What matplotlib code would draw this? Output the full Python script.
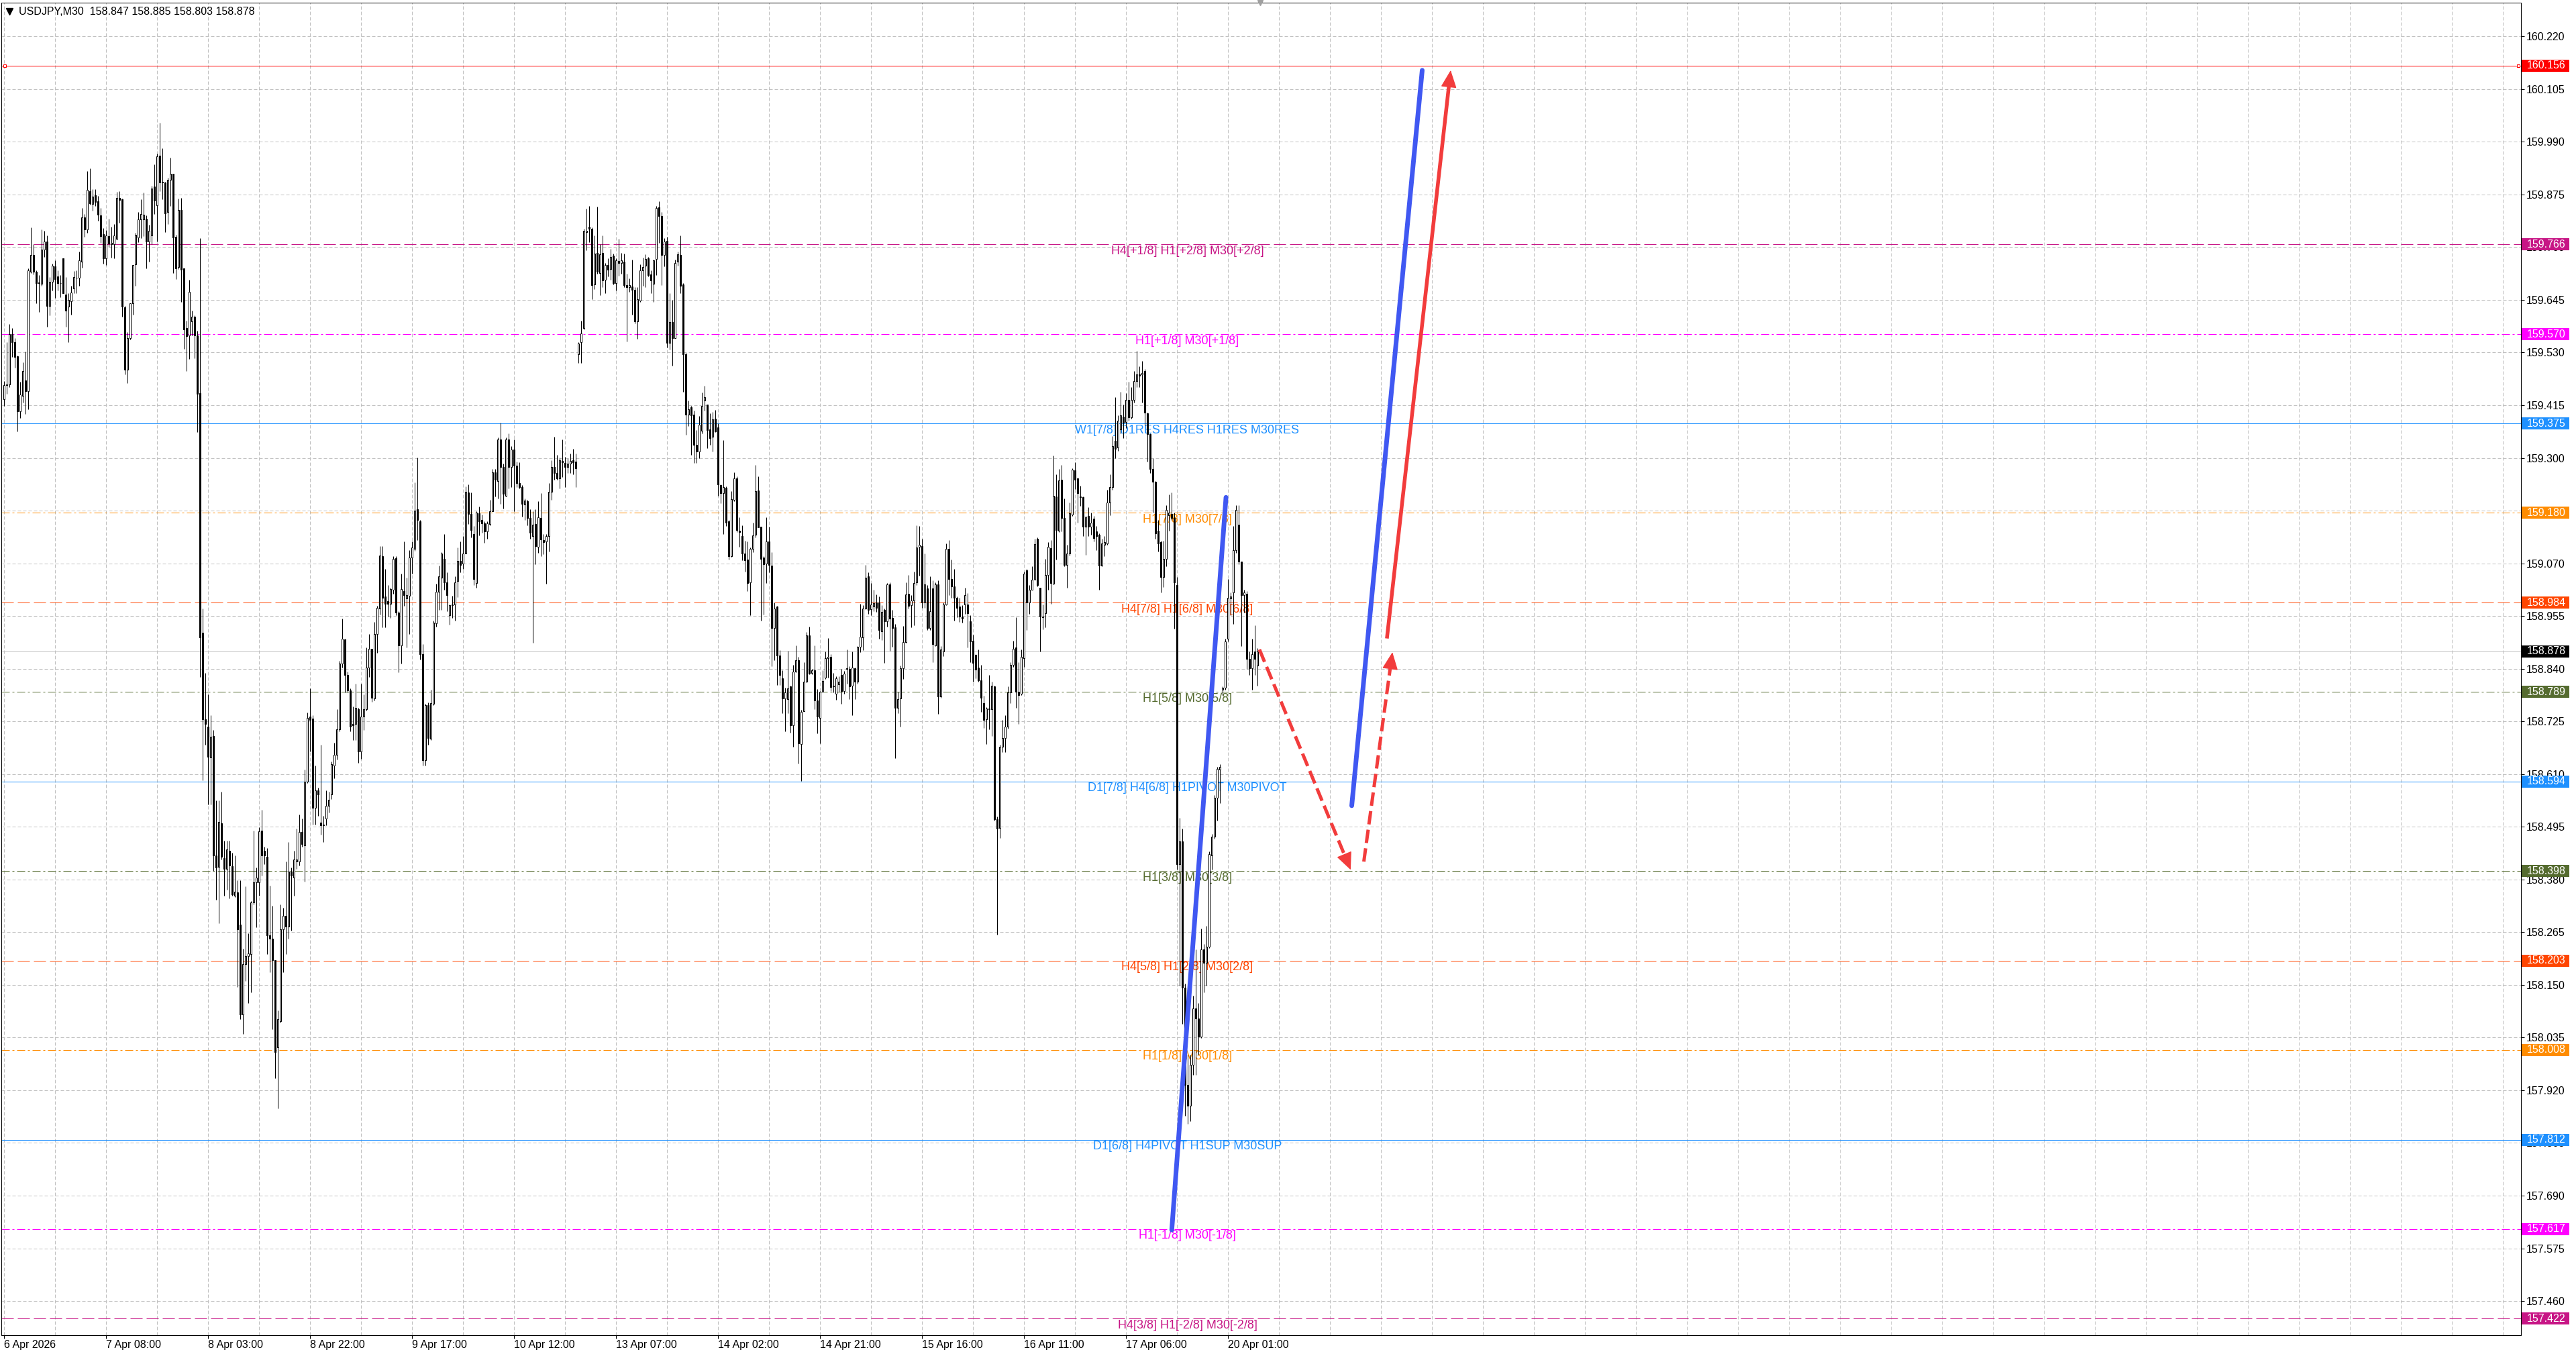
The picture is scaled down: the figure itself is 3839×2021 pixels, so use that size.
import matplotlib
matplotlib.use('Agg')
import matplotlib.pyplot as plt
import matplotlib.transforms as mtransforms
from matplotlib.patches import Rectangle
import numpy as np

plt.rcParams['font.family'] = ['Liberation Sans', 'DejaVu Sans']

title_text = "USDJPY,M30  158.847 158.885 158.803 158.878"

opens = [
159.428, 159.459, 159.460, 159.570, 159.553, 159.522, 159.402, 159.435, 159.469, 159.446,
159.707, 159.743, 159.707, 159.683, 159.680, 159.755, 159.772, 159.632, 159.684, 159.718,
159.696, 159.682, 159.736, 159.656, 159.630, 159.642, 159.670, 159.693, 159.693, 159.729,
159.825, 159.798, 159.882, 159.855, 159.873, 159.860, 159.830, 159.789, 159.735, 159.784,
159.767, 159.766, 159.778, 159.868, 159.865, 159.629, 159.492, 159.561, 159.637, 159.723,
159.781, 159.820, 159.821, 159.822, 159.773, 159.786, 159.892, 159.852, 159.960, 159.903,
159.901, 159.836, 159.907, 159.920, 159.782, 159.716, 159.841, 159.713, 159.583, 159.567,
159.598, 159.609, 159.568, 159.441, 158.919, 158.730, 158.714, 158.646, 158.693, 158.432,
158.407, 158.503, 158.427, 158.403, 158.442, 158.409, 158.345, 158.352, 158.281, 158.086,
158.195, 158.213, 158.217, 158.330, 158.374, 158.374, 158.487, 158.442, 158.429, 158.258,
158.251, 158.204, 158.013, 158.071, 158.272, 158.300, 158.277, 158.397, 158.384, 158.419,
158.419, 158.483, 158.455, 158.593, 158.736, 158.731, 158.536, 158.574, 158.504, 158.498,
158.513, 158.541, 158.565, 158.629, 158.652, 158.708, 158.851, 158.904, 158.826, 158.793,
158.719, 158.719, 158.751, 158.659, 158.736, 158.751, 158.842, 158.884, 158.775, 158.915,
158.971, 159.085, 158.997, 158.988, 158.981, 159.012, 159.081, 158.962, 158.891, 159.009,
158.993, 158.999, 159.083, 159.101, 159.188, 159.162, 158.871, 158.641, 158.760, 158.687,
158.763, 158.939, 159.008, 159.039, 159.080, 159.028, 158.956, 158.978, 158.980, 159.031,
159.075, 159.070, 159.092, 159.225, 159.178, 159.134, 159.027, 159.179, 159.164, 159.157,
159.139, 159.156, 159.184, 159.268, 159.250, 159.340, 159.281, 159.218, 159.341, 159.280,
159.318, 159.283, 159.245, 159.237, 159.198, 159.206, 159.169, 159.129, 159.156, 159.106,
159.169, 159.120, 159.118, 159.129, 159.226, 159.280, 159.267, 159.256, 159.293, 159.289,
159.280, 159.287, 159.295, 159.292, 159.526, 159.552, 159.583, 159.793, 159.805, 159.800,
159.679, 159.748, 159.704, 159.748, 159.689, 159.721, 159.712, 159.741, 159.682, 159.730,
159.726, 159.729, 159.677, 159.673, 159.674, 159.667, 159.598, 159.644, 159.709, 159.719,
159.736, 159.701, 159.680, 159.734, 159.847, 159.828, 159.743, 159.774, 159.551, 159.596,
159.562, 159.729, 159.743, 159.679, 159.527, 159.394, 159.410, 159.394, 159.329, 159.314,
159.359, 159.425, 159.417, 159.363, 159.346, 159.385, 159.367, 159.240, 159.223, 159.235,
159.162, 159.085, 159.208, 159.255, 159.141, 159.129, 159.092, 159.078, 159.029, 159.101,
159.132, 159.229, 159.150, 159.082, 159.070, 159.117, 159.065, 158.929, 158.975, 158.869,
158.819, 158.775, 158.774, 158.801, 158.716, 158.834, 158.859, 158.675, 158.747, 158.812,
158.913, 158.830, 158.837, 158.771, 158.733, 158.790, 158.820, 158.863, 158.866, 158.803,
158.786, 158.806, 158.827, 158.791, 158.841, 158.839, 158.803, 158.841, 158.812, 158.888,
158.908, 158.971, 159.042, 158.970, 158.976, 158.985, 158.985, 158.922, 158.968, 158.944,
159.024, 158.951, 158.930, 158.754, 158.775, 158.841, 158.898, 159.003, 158.978, 158.989,
159.028, 159.106, 159.108, 158.984, 159.015, 158.929, 159.015, 158.891, 159.024, 158.779,
158.877, 158.980, 159.101, 159.035, 159.020, 158.994, 158.975, 158.954, 158.980, 158.980,
158.944, 158.901, 158.870, 158.842, 158.814, 158.765, 158.730, 158.751, 158.751, 158.802,
158.511, 158.492, 158.670, 158.688, 158.713, 158.788, 158.849, 158.886, 158.789, 158.786,
158.863, 159.055, 158.984, 159.013, 159.036, 159.124, 159.017, 158.954, 158.961, 159.045,
159.103, 159.026, 159.216, 159.141, 159.253, 159.169, 159.066, 159.091, 159.176, 159.273,
159.255, 159.216, 159.214, 159.150, 159.173, 159.150, 159.167, 159.139, 159.132, 159.065,
159.110, 159.113, 159.203, 159.236, 159.337, 159.323, 159.363, 159.390, 159.379, 159.427,
159.388, 159.427, 159.468, 159.483, 159.483, 159.489, 159.397, 159.352, 159.276, 159.248,
159.141, 159.116, 159.040, 159.080, 159.175, 159.178, 159.169, 159.023, 158.413, 158.463,
158.144, 157.931, 157.886, 157.976, 158.099, 158.077, 158.037, 158.228, 158.198, 158.233,
158.433, 158.474, 158.558, 158.620, 158.794, 158.799, 158.906, 158.993, 159.007, 159.099,
159.155, 159.074, 159.001, 159.004, 158.861, 158.841, 158.878, 158.847]

highs = [
159.467, 159.553, 159.592, 159.584, 159.562, 159.523, 159.466, 159.508, 159.532, 159.714,
159.803, 159.767, 159.709, 159.699, 159.798, 159.795, 159.786, 159.694, 159.724, 159.731,
159.710, 159.699, 159.736, 159.694, 159.660, 159.675, 159.708, 159.710, 159.750, 159.846,
159.833, 159.926, 159.932, 159.887, 159.886, 159.872, 159.846, 159.802, 159.797, 159.822,
159.804, 159.811, 159.880, 159.882, 159.866, 159.631, 159.575, 159.638, 159.721, 159.792,
159.837, 159.865, 159.879, 159.830, 159.809, 159.894, 159.941, 159.964, 160.031, 159.976,
159.902, 159.911, 159.955, 159.920, 159.787, 159.866, 159.868, 159.714, 159.599, 159.689,
159.621, 159.611, 159.578, 159.780, 158.971, 158.831, 158.784, 158.739, 158.706, 158.552,
158.552, 158.571, 158.464, 158.464, 158.464, 158.438, 158.433, 158.378, 158.378, 158.229,
158.365, 158.262, 158.333, 158.487, 158.406, 158.494, 158.532, 158.451, 158.449, 158.367,
158.322, 158.204, 158.094, 158.326, 158.318, 158.419, 158.461, 158.406, 158.442, 158.491,
158.522, 158.513, 158.620, 158.744, 158.797, 158.739, 158.629, 158.580, 158.674, 158.519,
158.575, 158.571, 158.638, 158.678, 158.752, 158.857, 158.950, 158.906, 158.833, 158.797,
158.758, 158.807, 158.754, 158.808, 158.784, 158.887, 158.915, 158.884, 158.942, 158.977,
159.107, 159.108, 159.057, 159.022, 159.017, 159.085, 159.086, 158.966, 159.047, 159.117,
159.039, 159.099, 159.118, 159.246, 159.301, 159.164, 158.894, 158.763, 158.766, 158.794,
158.945, 159.026, 159.065, 159.095, 159.134, 159.050, 158.980, 158.999, 159.042, 159.104,
159.117, 159.129, 159.238, 159.242, 159.225, 159.151, 159.183, 159.194, 159.177, 159.162,
159.161, 159.209, 159.276, 159.276, 159.345, 159.377, 159.288, 159.344, 159.353, 159.326,
159.340, 159.292, 159.291, 159.240, 159.211, 159.208, 159.188, 159.183, 159.188, 159.206,
159.223, 159.134, 159.134, 159.245, 159.295, 159.346, 159.307, 159.301, 159.340, 159.302,
159.300, 159.309, 159.320, 159.309, 159.553, 159.599, 159.800, 159.844, 159.850, 159.803,
159.786, 159.849, 159.766, 159.786, 159.726, 159.736, 159.756, 159.746, 159.736, 159.778,
159.747, 159.746, 159.702, 159.692, 159.733, 159.672, 159.672, 159.723, 159.737, 159.744,
159.739, 159.709, 159.733, 159.850, 159.860, 159.837, 159.780, 159.783, 159.659, 159.645,
159.733, 159.751, 159.786, 159.682, 159.529, 159.425, 159.413, 159.403, 159.361, 159.392,
159.443, 159.457, 159.417, 159.398, 159.400, 159.405, 159.376, 159.242, 159.339, 159.238,
159.164, 159.228, 159.269, 159.260, 159.170, 159.153, 159.119, 159.117, 159.104, 159.158,
159.284, 159.260, 159.150, 159.085, 159.170, 159.150, 159.095, 158.985, 158.977, 158.881,
158.837, 158.799, 158.879, 158.803, 158.849, 158.891, 158.866, 158.750, 158.854, 158.920,
158.932, 158.840, 158.891, 158.796, 158.791, 158.837, 158.878, 158.907, 158.871, 158.830,
158.823, 158.823, 158.840, 158.835, 158.882, 158.845, 158.878, 158.842, 158.890, 158.981,
158.978, 159.066, 159.051, 159.027, 159.012, 159.002, 158.998, 158.978, 158.971, 159.027,
159.029, 158.968, 158.937, 158.789, 158.847, 158.933, 159.028, 159.045, 159.000, 159.052,
159.153, 159.152, 159.124, 159.092, 159.022, 159.042, 159.033, 159.029, 159.033, 158.889,
158.985, 159.113, 159.120, 159.078, 159.057, 158.998, 158.994, 158.978, 159.017, 159.005,
158.956, 158.914, 158.872, 158.882, 158.849, 158.781, 158.756, 158.826, 158.812, 158.803,
158.518, 158.674, 158.728, 158.739, 158.802, 158.854, 158.901, 158.952, 158.854, 158.882,
159.052, 159.057, 159.022, 159.064, 159.124, 159.127, 159.017, 158.980, 159.080, 159.116,
159.120, 159.305, 159.264, 159.276, 159.285, 159.211, 159.110, 159.202, 159.278, 159.291,
159.257, 159.239, 159.216, 159.173, 159.193, 159.180, 159.173, 159.152, 159.136, 159.124,
159.130, 159.231, 159.264, 159.348, 159.432, 159.393, 159.444, 159.416, 159.441, 159.466,
159.455, 159.489, 159.533, 159.500, 159.511, 159.494, 159.399, 159.354, 159.300, 159.250,
159.164, 159.119, 159.119, 159.197, 159.220, 159.225, 159.180, 159.040, 158.514, 158.491,
158.153, 157.998, 157.998, 158.127, 158.228, 158.110, 158.273, 158.239, 158.278, 158.441,
158.480, 158.564, 158.626, 158.631, 158.802, 158.906, 159.035, 159.007, 159.152, 159.197,
159.197, 159.074, 159.012, 159.009, 158.878, 158.906, 158.934, 158.885]

lows = [
159.414, 159.440, 159.454, 159.521, 159.497, 159.358, 159.387, 159.421, 159.396, 159.406,
159.704, 159.700, 159.637, 159.619, 159.675, 159.738, 159.587, 159.611, 159.666, 159.649,
159.665, 159.651, 159.659, 159.587, 159.553, 159.612, 159.659, 159.659, 159.675, 159.715,
159.783, 159.792, 159.853, 159.840, 159.850, 159.817, 159.770, 159.724, 159.721, 159.760,
159.737, 159.735, 159.777, 159.814, 159.609, 159.482, 159.464, 159.558, 159.612, 159.675,
159.771, 159.780, 159.784, 159.713, 159.729, 159.767, 159.832, 159.772, 159.882, 159.865,
159.793, 159.811, 159.850, 159.703, 159.690, 159.712, 159.640, 159.538, 159.489, 159.516,
159.567, 159.518, 159.357, 158.822, 158.597, 158.674, 158.543, 158.543, 158.398, 158.336,
158.285, 158.423, 158.345, 158.358, 158.339, 158.345, 158.342, 158.146, 158.075, 158.043,
158.159, 158.110, 158.133, 158.326, 158.275, 158.345, 158.388, 158.413, 158.217, 158.178,
158.053, 157.946, 157.881, 158.068, 158.178, 158.217, 158.251, 158.268, 158.345, 158.403,
158.410, 158.452, 158.375, 158.590, 158.659, 158.500, 158.500, 158.519, 158.478, 158.461,
158.498, 158.526, 158.556, 158.601, 158.642, 158.704, 158.842, 158.788, 158.788, 158.704,
158.684, 158.684, 158.635, 158.644, 158.706, 158.749, 158.822, 158.768, 158.771, 158.874,
158.958, 158.931, 158.931, 158.954, 158.951, 159.004, 158.956, 158.832, 158.851, 158.977,
158.886, 158.916, 159.047, 159.097, 159.120, 158.860, 158.628, 158.629, 158.674, 158.685,
158.761, 158.932, 158.969, 158.969, 159.012, 158.966, 158.936, 158.951, 158.945, 158.996,
159.050, 159.058, 159.091, 159.156, 159.126, 159.023, 159.016, 159.131, 159.137, 159.115,
159.124, 159.153, 159.183, 159.216, 159.211, 159.200, 159.189, 159.216, 159.234, 159.237,
159.183, 159.237, 159.233, 159.172, 159.165, 159.153, 159.124, 158.896, 159.068, 159.093,
159.085, 159.090, 159.025, 159.096, 159.208, 159.252, 159.252, 159.234, 159.258, 159.236,
159.267, 159.267, 159.264, 159.236, 159.507, 159.507, 159.581, 159.753, 159.771, 159.647,
159.669, 159.702, 159.655, 159.672, 159.659, 159.696, 159.689, 159.679, 159.665, 159.698,
159.702, 159.672, 159.554, 159.662, 159.612, 159.593, 159.560, 159.640, 159.675, 159.672,
159.696, 159.660, 159.640, 159.699, 159.770, 159.677, 159.718, 159.541, 159.536, 159.501,
159.561, 159.719, 159.659, 159.445, 159.351, 159.369, 159.307, 159.289, 159.289, 159.299,
159.353, 159.403, 159.322, 159.329, 159.314, 159.356, 159.218, 159.201, 159.134, 159.151,
159.078, 159.084, 159.205, 159.138, 159.106, 159.077, 159.052, 159.010, 158.957, 159.094,
159.126, 159.148, 158.945, 158.958, 159.027, 159.051, 158.845, 158.859, 158.804, 158.804,
158.743, 158.704, 158.743, 158.701, 158.670, 158.832, 158.633, 158.595, 158.747, 158.810,
158.828, 158.828, 158.752, 158.699, 158.677, 158.789, 158.818, 158.820, 158.791, 158.788,
158.772, 158.789, 158.764, 158.786, 158.808, 158.773, 158.739, 158.774, 158.808, 158.876,
158.881, 158.970, 158.960, 158.956, 158.966, 158.964, 158.905, 158.903, 158.852, 158.932,
158.879, 158.888, 158.645, 158.743, 158.713, 158.818, 158.897, 158.972, 158.930, 158.934,
159.022, 159.043, 158.973, 158.973, 158.924, 158.924, 158.854, 158.889, 158.742, 158.777,
158.868, 158.978, 159.001, 158.994, 158.945, 158.952, 158.942, 158.940, 158.959, 158.886,
158.854, 158.812, 158.819, 158.812, 158.746, 158.711, 158.676, 158.707, 158.693, 158.509,
158.259, 158.471, 158.658, 158.658, 158.709, 158.765, 158.844, 158.754, 158.719, 158.782,
158.844, 158.924, 158.959, 159.012, 159.033, 159.019, 158.877, 158.926, 158.931, 159.012,
158.982, 159.024, 159.078, 159.138, 159.139, 159.064, 159.017, 159.087, 159.174, 159.232,
159.158, 159.195, 159.130, 159.089, 159.130, 159.132, 159.117, 159.099, 159.012, 159.063,
159.085, 159.110, 159.175, 159.231, 159.300, 159.315, 159.354, 159.343, 159.365, 159.382,
159.385, 159.421, 159.455, 159.455, 159.421, 159.371, 159.292, 159.267, 159.180, 159.124,
159.096, 159.007, 159.018, 159.063, 159.141, 159.164, 158.928, 158.402, 158.149, 158.065,
157.864, 157.847, 157.852, 157.953, 157.953, 157.998, 158.034, 158.133, 158.149, 158.231,
158.402, 158.469, 158.508, 158.547, 158.783, 158.794, 158.900, 158.956, 158.937, 159.093,
159.068, 158.889, 158.962, 158.839, 158.827, 158.794, 158.827, 158.803]

closes = [
159.459, 159.460, 159.570, 159.553, 159.521, 159.402, 159.439, 159.489, 159.446, 159.709,
159.743, 159.707, 159.682, 159.681, 159.755, 159.773, 159.631, 159.685, 159.719, 159.691,
159.682, 159.681, 159.659, 159.622, 159.645, 159.661, 159.694, 159.693, 159.731, 159.825,
159.799, 159.885, 159.856, 159.871, 159.858, 159.831, 159.784, 159.735, 159.785, 159.768,
159.770, 159.785, 159.867, 159.863, 159.630, 159.492, 159.561, 159.637, 159.721, 159.787,
159.820, 159.832, 159.831, 159.773, 159.796, 159.888, 159.862, 159.958, 159.901, 159.901,
159.834, 159.907, 159.920, 159.781, 159.714, 159.841, 159.711, 159.581, 159.566, 159.662,
159.609, 159.567, 159.440, 158.909, 158.730, 158.719, 158.648, 158.691, 158.432, 158.406,
158.505, 158.429, 158.403, 158.445, 158.410, 158.348, 158.354, 158.272, 158.086, 158.195,
158.213, 158.219, 158.330, 158.374, 158.384, 158.485, 158.432, 158.432, 158.258, 158.251,
158.204, 158.004, 158.075, 158.272, 158.300, 158.277, 158.397, 158.388, 158.423, 158.423,
158.483, 158.458, 158.593, 158.732, 158.728, 158.536, 158.575, 158.565, 158.498, 158.500,
158.541, 158.554, 158.632, 158.652, 158.708, 158.851, 158.905, 158.826, 158.793, 158.713,
158.717, 158.755, 158.659, 158.736, 158.751, 158.842, 158.884, 158.777, 158.915, 158.973,
159.087, 158.995, 158.982, 158.981, 159.014, 159.080, 158.962, 158.891, 159.014, 159.001,
159.001, 159.083, 159.104, 159.185, 159.165, 158.872, 158.641, 158.761, 158.689, 158.765,
158.941, 159.008, 159.042, 159.092, 159.028, 159.000, 158.978, 158.980, 159.028, 159.075,
159.067, 159.092, 159.226, 159.178, 159.142, 159.035, 159.180, 159.161, 159.157, 159.139,
159.157, 159.184, 159.268, 159.252, 159.340, 159.281, 159.222, 159.341, 159.280, 159.318,
159.283, 159.245, 159.237, 159.199, 159.207, 159.169, 159.137, 159.155, 159.107, 159.170,
159.122, 159.116, 159.130, 159.226, 159.280, 159.267, 159.256, 159.295, 159.291, 159.280,
159.287, 159.293, 159.290, 159.277, 159.550, 159.571, 159.796, 159.795, 159.800, 159.677,
159.746, 159.706, 159.744, 159.687, 159.721, 159.711, 159.739, 159.682, 159.731, 159.726,
159.731, 159.677, 159.672, 159.677, 159.667, 159.598, 159.647, 159.710, 159.717, 159.734,
159.699, 159.688, 159.731, 159.845, 159.828, 159.743, 159.773, 159.551, 159.596, 159.561,
159.726, 159.744, 159.675, 159.527, 159.394, 159.406, 159.393, 159.329, 159.314, 159.373,
159.413, 159.433, 159.361, 159.343, 159.384, 159.358, 159.242, 159.223, 159.236, 159.158,
159.085, 159.210, 159.255, 159.142, 159.138, 159.092, 159.077, 159.027, 159.102, 159.131,
159.227, 159.149, 159.080, 159.068, 159.118, 159.066, 158.929, 158.972, 158.869, 158.826,
158.775, 158.788, 158.797, 158.716, 158.834, 158.859, 158.677, 158.746, 158.812, 158.913,
158.829, 158.837, 158.771, 158.736, 158.790, 158.813, 158.863, 158.866, 158.800, 158.801,
158.819, 158.812, 158.791, 158.829, 158.839, 158.802, 158.842, 158.812, 158.888, 158.910,
158.972, 159.038, 158.969, 158.980, 158.983, 158.973, 158.924, 158.964, 158.944, 159.024,
158.950, 158.929, 158.754, 158.774, 158.841, 158.898, 159.002, 158.977, 158.989, 159.027,
159.104, 159.110, 158.984, 159.024, 158.929, 158.966, 158.893, 159.024, 158.779, 158.882,
158.980, 159.101, 159.035, 159.019, 158.994, 158.973, 158.954, 158.950, 159.001, 158.961,
158.900, 158.852, 158.838, 158.814, 158.777, 158.728, 158.753, 158.753, 158.803, 158.511,
158.491, 158.669, 158.688, 158.713, 158.788, 158.849, 158.884, 158.790, 158.782, 158.866,
159.047, 158.984, 159.013, 159.034, 159.112, 159.022, 158.954, 158.952, 159.045, 159.106,
159.027, 159.218, 159.142, 159.251, 159.169, 159.066, 159.091, 159.179, 159.274, 159.253,
159.223, 159.215, 159.150, 159.171, 159.150, 159.159, 159.125, 159.130, 159.065, 159.113,
159.116, 159.203, 159.236, 159.326, 159.320, 159.382, 159.393, 159.377, 159.427, 159.388,
159.427, 159.468, 159.483, 159.480, 159.486, 159.399, 159.352, 159.276, 159.248, 159.136,
159.113, 159.040, 159.080, 159.186, 159.180, 159.169, 159.029, 158.413, 158.463, 158.144,
157.931, 157.886, 157.976, 158.099, 158.077, 158.037, 158.228, 158.198, 158.233, 158.435,
158.474, 158.558, 158.622, 158.626, 158.799, 158.900, 158.995, 158.998, 159.099, 159.186,
159.074, 159.001, 159.007, 158.861, 158.841, 158.872, 158.861, 158.878]

# time axis labels (bar index of each label)
date_tick_bars = [0, 38, 76, 114, 152, 190, 228, 266, 304, 342, 380, 418, 456]
date_tick_labels = ["6 Apr 2026", "7 Apr 08:00", "8 Apr 03:00", "8 Apr 22:00", "9 Apr 17:00",
                    "10 Apr 12:00", "13 Apr 07:00", "14 Apr 02:00", "14 Apr 21:00",
                    "15 Apr 16:00", "16 Apr 11:00", "17 Apr 06:00", "20 Apr 01:00"]

price_ticks = [157.460, 157.575, 157.690, 157.805, 157.920, 158.035, 158.150, 158.265,
               158.380, 158.495, 158.610, 158.725, 158.840, 158.955, 159.070, 159.185,
               159.300, 159.415, 159.530, 159.645, 159.760, 159.875, 159.990, 160.105,
               160.220]

# Murrey-math style levels
level_prices = [159.766, 159.570, 159.375, 159.180, 158.984, 158.789, 158.594,
                158.398, 158.203, 158.008, 157.812, 157.617, 157.422]
level_texts = ["H4[+1/8] H1[+2/8] M30[+2/8]", "H1[+1/8] M30[+1/8]",
               "W1[7/8] D1RES H4RES H1RES M30RES", "H1[7/8] M30[7/8]",
               "H4[7/8] H1[6/8] M30[6/8]", "H1[5/8] M30[5/8]",
               "D1[7/8] H4[6/8] H1PIVOT M30PIVOT", "H1[3/8] M30[3/8]",
               "H4[5/8] H1[2/8] M30[2/8]", "H1[1/8] M30[1/8]",
               "D1[6/8] H4PIVOT H1SUP M30SUP", "H1[-1/8] M30[-1/8]",
               "H4[3/8] H1[-2/8] M30[-2/8]"]
level_colors = ["#C71585", "#FF00FF", "#1E90FF", "#FF8C00", "#FF4500", "#556B2F",
                "#1E90FF", "#556B2F", "#FF4500", "#FF8C00", "#1E90FF", "#FF00FF", "#C71585"]
level_kinds = ["dash", "dashdot", "solid", "dashdot", "dash", "dashdot", "solid",
               "dashdot", "dash", "dashdot", "solid", "dashdot", "dash"]

alert_price = 160.156
current_price = 158.878

# drawn trend lines / arrows: (bar index, price)
blue_line_1 = ([435.2, 455.4], [157.615, 159.214])
blue_line_2 = ([502.25, 528.5], [158.541, 160.146])
red_arrow_down = ([467.85, 501.85], [158.882, 158.401])
red_arrow_up_dashed = ([506.75, 517.4], [158.419, 158.876])
red_arrow_up = ([515.35, 539.1], [158.906, 160.146])

# ---------------------------------------------------------------
W, H = 3839, 2021
fig = plt.figure(figsize=(W / 100, H / 100), dpi=100)
fig.patch.set_facecolor('white')
ax = fig.add_axes([2 / W, (H - 1990) / H, 3755 / W, 1986 / H])
ax.set_xlim(-0.875, 937.875)
ax.set_ylim(157.3854, 160.2936)

PX = 0.72  # one pixel in points
grid_c = '#C0C0C0'

# grid
for p in price_ticks:
    ax.axhline(p, color=grid_c, lw=PX, ls=(0, (5, 3)), zorder=0.5)
for gx in np.arange(0, 938, 19):
    ax.axvline(gx, color=grid_c, lw=PX, ls=(0, (5, 3)), zorder=0.5)

styles = {"dash": (0, (18, 6)), "dashdot": (0, (12, 4, 3, 4)), "solid": '-'}
label_bar = 441
px_price = 1 / 682.9
for p, t, c, k in zip(level_prices, level_texts, level_colors, level_kinds):
    ax.axhline(p, color=c, lw=PX, ls=styles[k], zorder=1)
    ax.text(label_bar, p - 1.5 * px_price, t, color=c, fontsize=13, ha='center', va='top',
            zorder=2)

ax.axhline(current_price, color='#C0C0C0', lw=PX, zorder=1.2)
ax.axhline(alert_price, color='#FF0000', lw=PX, zorder=1.2)
blend = mtransforms.blended_transform_factory(ax.transAxes, ax.transData)
ax.plot([0.0013, 0.9989], [alert_price, alert_price], 's', ms=3.2, mfc='white', mec='#FF0000',
        mew=PX, transform=blend, zorder=1.3, clip_on=False)

# candles
o = np.array(opens); h = np.array(highs); l = np.array(lows); c = np.array(closes)
assert len(o) == len(h) == len(l) == len(c)
h = np.maximum(h, np.maximum(o, c))
l = np.minimum(l, np.minimum(o, c))
x = np.arange(len(o))
ax.vlines(x, l, h, color='black', lw=PX, zorder=3)
bull = c >= o
ax.bar(x, np.abs(c - o), bottom=np.minimum(o, c), width=0.5,
       color=np.where(bull, 'white', 'black'), edgecolor='black', linewidth=PX, zorder=4)

# trend lines
blue = '#4058F2'
red = '#F23C3C'
for xs, ys in (blue_line_1, blue_line_2):
    ax.plot(xs, ys, color=blue, lw=5, solid_capstyle='round', zorder=6)


def arrow(xs, ys, ls, lw):
    p0 = ax.transData.transform((xs[0], ys[0]))
    p1 = ax.transData.transform((xs[1], ys[1]))
    d = p1 - p0
    u = d / np.hypot(*d)
    inv = ax.transData.inverted()
    xe, ye = inv.transform(p1 - u * 14)
    ax.plot([xs[0], xe], [ys[0], ye], color=red, lw=lw, ls=ls, solid_capstyle='butt',
            dash_capstyle='butt', zorder=7)
    xb, yb = inv.transform(p1 - u * 24)
    ax.annotate('', xy=(xs[1], ys[1]), xytext=(xb, yb),
                arrowprops=dict(arrowstyle='-|>,head_length=1.1,head_width=0.5',
                                mutation_scale=15, color=red, lw=1, shrinkA=0, shrinkB=0),
                zorder=8)


arrow(*red_arrow_down, (0, (4, 1.6)), 3.6)
arrow(*red_arrow_up_dashed, (0, (4, 1.6)), 3.6)
arrow(*red_arrow_up, '-', 4.0)

# axes styling
for s in ax.spines.values():
    s.set_color('black')
    s.set_linewidth(PX)
ax.yaxis.tick_right()
ax.set_yticks(price_ticks)
ax.set_yticklabels([f"{p:.3f}" for p in price_ticks])
ax.tick_params(axis='y', length=3.6, width=PX, pad=2.2, labelsize=11.5, colors='black')
ax.set_xticks(date_tick_bars)
ax.set_xticklabels(date_tick_labels, ha='left')
ax.tick_params(axis='x', length=3.6, width=PX, pad=1.5, labelsize=11.5, colors='black')

# price boxes on the right axis
box_prices = [alert_price] + level_prices + [current_price]
box_colors = ['#FF0000'] + level_colors + ['#000000']
for p, bc in zip(box_prices, box_colors):
    ax.add_patch(Rectangle((1.0003, p - 9 * px_price), 0.0189, 18 * px_price, transform=blend,
                           facecolor=bc, edgecolor='none', clip_on=False, zorder=20))
    ax.text(1.0022, p, f"{p:.3f}", transform=blend, color='white', fontsize=11.5,
            va='center', ha='left', zorder=21, clip_on=False)

# header
fig.text(28 / W, 1 - 17.5 / H, title_text, fontsize=11.5, ha='left', va='center')
ax.plot([13.5 / W], [1 - 16.5 / H], marker='v', ms=6.5, color='black',
        transform=fig.transFigure, clip_on=False)
ax.plot([0.4996], [1.0], marker='v', ms=6, color='#A0A0A0', transform=ax.transAxes,
        clip_on=False, zorder=30)

fig.savefig('out.png', dpi=100, facecolor='white')
